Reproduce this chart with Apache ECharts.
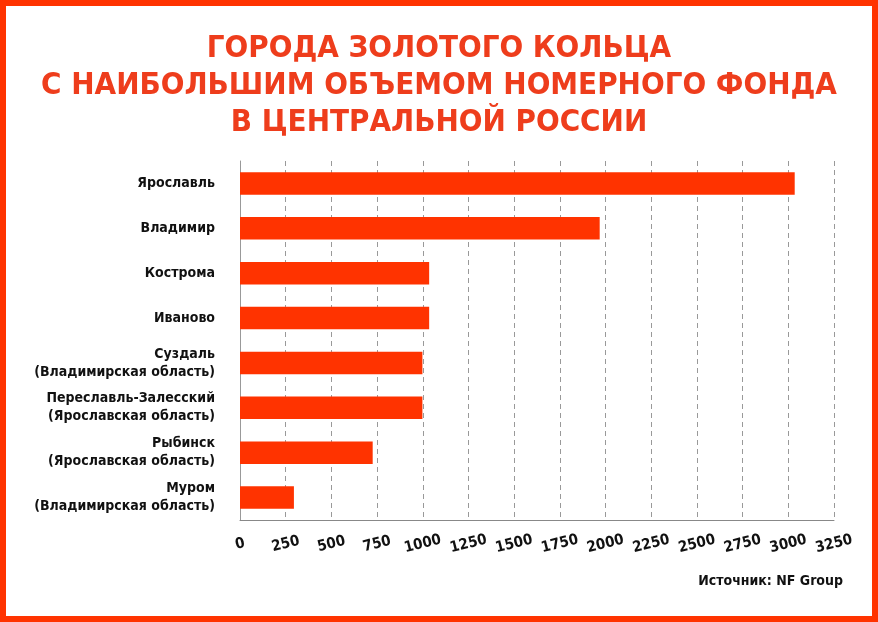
<!DOCTYPE html>
<html>
<head>
<meta charset="utf-8">
<script src="https://cdn.jsdelivr.net/npm/echarts@6/dist/echarts.min.js"></script>
<style>
    html, body { margin: 0; padding: 0; background: #fff; }
    #chart { width: 878px; height: 622px; }
</style>
</head>
<body>
<div id="chart"></div>
<script>
// города сверху вниз
var cities = [
    'Ярославль',
    'Владимир',
    'Кострома',
    'Иваново',
    'Суздаль\n(Владимирская область)',
    'Переславль-Залесский\n(Ярославская область)',
    'Рыбинск\n(Ярославская область)',
    'Муром\n(Владимирская область)'
];
var rooms = [3035, 1968, 1035, 1035, 998, 998, 726, 295];
var titleLines = [
    'ГОРОДА ЗОЛОТОГО КОЛЬЦА',
    'С НАИБОЛЬШИМ ОБЪЕМОМ НОМЕРНОГО ФОНДА',
    'В ЦЕНТРАЛЬНОЙ РОССИИ'
];
var sourceText = 'Источник: NF Group';

var RED = '#ff3300';
var FONT = '"DejaVu Sans Condensed", "Roboto", sans-serif';

var chart = echarts.init(document.getElementById('chart'));
chart.setOption({
    backgroundColor: '#fff',
    animation: false,
    title: {
        text: titleLines.join('\n'),
        left: 'center',
        top: 25,
        textStyle: {
            color: '#ee3d1c',
            fontFamily: FONT,
            fontWeight: 'bold',
            fontSize: 31,
            lineHeight: 37
        }
    },
    grid: {
        left: 240,
        right: 44,
        top: 161,
        bottom: 102
    },
    xAxis: {
        type: 'value',
        min: 0,
        max: 3250,
        interval: 250,
        axisLine: { show: true, lineStyle: { color: '#888', width: 1 } },
        axisTick: { show: false },
        splitLine: { show: true, lineStyle: { color: '#999', type: [5, 4], width: 1 } },
        axisLabel: {
            rotate: 14,
            align: 'center',
            margin: 24,
            color: '#111',
            fontFamily: FONT,
            fontWeight: 'bold',
            fontSize: 15,
            formatter: function (v) { return String(v); }
        }
    },
    yAxis: {
        type: 'category',
        inverse: true,
        data: cities,
        axisLine: { show: true, lineStyle: { color: '#999', width: 1 } },
        axisTick: { show: false },
        axisLabel: {
            margin: 25,
            color: '#111',
            fontFamily: FONT,
            fontWeight: 'bold',
            fontSize: 14,
            lineHeight: 18
        }
    },
    series: [{
        type: 'bar',
        data: rooms,
        barWidth: '50%',
        itemStyle: { color: RED }
    }],
    graphic: [
        {
            type: 'rect',
            shape: { x: 3, y: 3, width: 872, height: 616 },
            style: { fill: 'none', stroke: RED, lineWidth: 6 },
            silent: true
        },
        {
            type: 'text',
            right: 35,
            top: 574,
            style: {
                text: sourceText,
                fill: '#111',
                font: 'bold 14px ' + FONT
            }
        }
    ]
});
</script>
</body>
</html>
